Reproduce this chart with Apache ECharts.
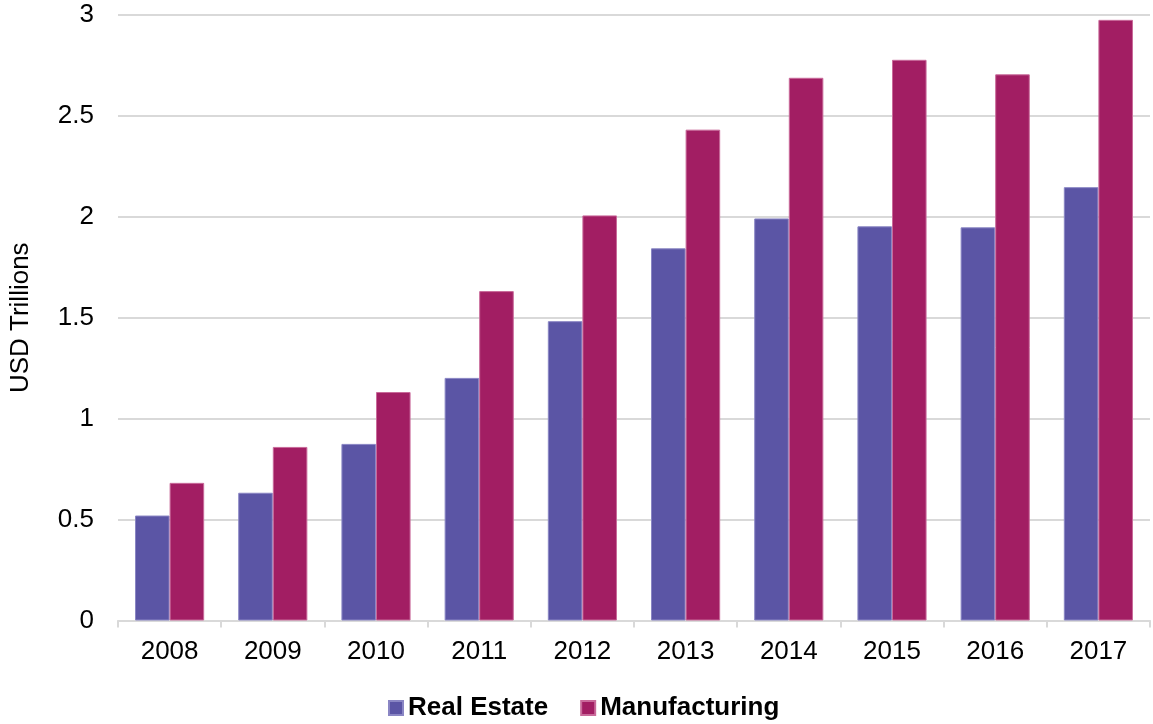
<!DOCTYPE html>
<html><head><meta charset="utf-8">
<script src="https://cdn.jsdelivr.net/npm/echarts@6/dist/echarts.min.js"></script>
<style>html,body{margin:0;padding:0;background:#fff}#c{width:1153px;height:724px}</style>
</head><body><div id="c"></div>
<script>
const categories = ['2008','2009','2010','2011','2012','2013','2014','2015','2016','2017'];
const realEstate = [0.52, 0.633, 0.875, 1.202, 1.483, 1.844, 1.992, 1.953, 1.948, 2.147];
const manufacturing = [0.682, 0.86, 1.132, 1.632, 2.007, 2.432, 2.689, 2.778, 2.706, 2.976];
const yTicks = [0, 0.5, 1, 1.5, 2, 2.5, 3];

const chart = echarts.init(document.getElementById('c'));
const font = '"Liberation Sans", Arial, sans-serif';
chart.setOption({
  animation: false,
  textStyle: {fontFamily: font},
  grid: {left: 117, right: 3, top: 15, bottom: 103.5, containLabel: false},
  legend: {
    top: 690, left: 383, itemWidth: 14, itemHeight: 14, itemGap: 32,
    icon: 'rect',
    textStyle: {fontFamily: font, fontSize: 26, fontWeight: 'bold', color: '#000'},
    data: ['Real Estate', 'Manufacturing']
  },
  xAxis: {
    type: 'category', data: categories, boundaryGap: true,
    axisLine: {lineStyle: {color: '#d9d9d9', width: 2}},
    axisTick: {show: true, length: 7, lineStyle: {color: '#d9d9d9', width: 2}},
    axisLabel: {color: '#000', fontSize: 26, margin: 18, fontFamily: font}
  },
  yAxis: {
    type: 'value', min: 0, max: 3, interval: 0.5,
    name: 'USD Trillions', nameLocation: 'middle', nameGap: 84, nameRotate: 90,
    nameTextStyle: {color: '#000', fontSize: 26, fontFamily: font},
    axisLine: {show: false}, axisTick: {show: false},
    splitLine: {lineStyle: {color: '#d9d9d9', width: 2}},
    axisLabel: {color: '#000', fontSize: 26, margin: 24, fontFamily: font,
      formatter: v => yTicks.includes(v) ? String(v) : ''}
  },
  series: [
    {name: 'Real Estate', type: 'bar', data: realEstate, barGap: '0%', barCategoryGap: '33%',
     itemStyle: {color: '#5B55A5', borderColor: '#8a86c4', borderWidth: 1}},
    {name: 'Manufacturing', type: 'bar', data: manufacturing, barGap: '0%', barCategoryGap: '33%',
     itemStyle: {color: '#A21E63', borderColor: '#c96a9a', borderWidth: 1}}
  ]
});
</script></body></html>
